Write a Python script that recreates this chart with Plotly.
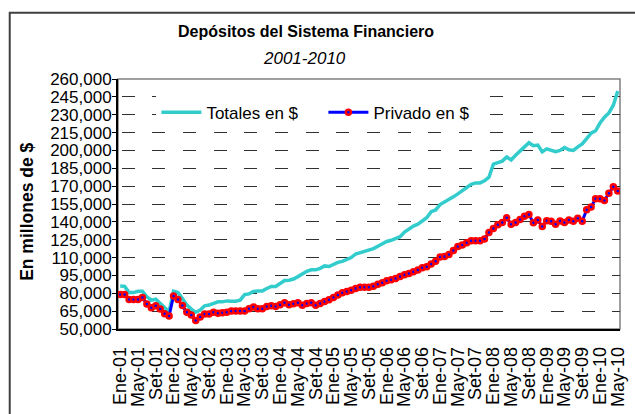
import plotly.graph_objects as go

# ---- data (millones de $) ----
month_abbr = ["Ene", "Feb", "Mar", "Abr", "May", "Jun", "Jul", "Ago", "Set", "Oct", "Nov", "Dic"]
months = [f"{m}-{y:02d}" for y in range(1, 11) for m in month_abbr][:113]   # Ene-01 .. May-10

tick_labels = ["Ene-01", "May-01", "Set-01", "Ene-02", "May-02", "Set-02", "Ene-03", "May-03", "Set-03",
               "Ene-04", "May-04", "Set-04", "Ene-05", "May-05", "Set-05", "Ene-06", "May-06", "Set-06",
               "Ene-07", "May-07", "Set-07", "Ene-08", "May-08", "Set-08", "Ene-09", "May-09", "Set-09",
               "Ene-10", "May-10"]

totales = [86100, 85800, 80600, 80600, 81700, 81700, 77000, 74200, 75000, 71400, 67800, 64500,
           81700, 80600, 75600, 70100, 66700, 64000, 65900, 69500, 70100, 71400, 72800, 72800,
           73600, 73400, 73400, 74200, 78900, 79500, 81500, 82000, 82000, 84000, 85800, 85800,
           88000, 90800, 91000, 92000, 94000, 96500, 98500, 99700, 99700, 101000, 103000, 102500,
           104500, 106000, 106800, 108500, 110000, 113000, 114000, 115000, 115900, 117500, 119500, 121500,
           123500, 124500, 126000, 127500, 131500, 134000, 136500, 138000, 140500, 143500, 148500, 150000,
           154500, 156500, 158500, 161000, 163500, 166000, 168500, 171500, 172700, 172700, 174500, 177500,
           188500, 189500, 191000, 194500, 192000, 196000, 200000, 203000, 206500, 204000, 204500, 198800,
           201300, 200500, 199000, 200000, 202500, 200500, 200000, 203000, 205500, 210000, 214500, 216500,
           223000, 228000, 231500, 238000, 250000]

privado = [78900, 78900, 74800, 74800, 74800, 76400, 70900, 67800, 69500, 66700, 62900, 60900,
           77800, 74800, 69800, 64000, 61800, 57100, 60100, 62600, 62600, 64000, 63200, 63700,
           64000, 65100, 65100, 65100, 65100, 67000, 68400, 67000, 67000, 69000, 69500, 69000,
           70300, 72000, 70300, 71200, 72000, 70000, 71500, 72000, 70000, 71500, 73000, 74500,
           76500, 78500, 80500, 81500, 82500, 84000, 85000, 85100, 85100, 86000, 87500, 88800,
           90600, 91300, 92500, 94000, 95500, 96700, 98000, 99500, 101500, 102200, 104500, 107000,
           110400, 111000, 112500, 115900, 119200, 120500, 122500, 124100, 124100, 124100, 125500, 131000,
           134500, 137500, 139500, 143400, 137900, 139500, 142000, 144700, 146100, 139200, 141500, 136000,
           141000, 140500, 138000, 140800, 139500, 141500, 140500, 143000, 140500, 150200, 152500, 159500,
           159500, 158000, 164000, 169500, 166000]

# ---- layout geometry (pixels) ----
W, H = 635, 414
L, R, T, B = 118, 7, 79, 82
pw, ph = W - L - R, H - T - B


def px_x(x):
    return (x - L) / pw


def px_y(y):
    return (H - B - y) / ph


FONT = "Arial, 'Liberation Sans', sans-serif"

fig = go.Figure()
fig.add_trace(go.Scatter(
    x=months, y=totales, name="Totales en $", mode="lines",
    line=dict(color="#33CCCC", width=3.5)))
fig.add_trace(go.Scatter(
    x=months, y=privado, name="Privado en $", mode="lines+markers",
    line=dict(color="#0000FF", width=3),
    marker=dict(symbol="circle", size=5, color="#0000FF", line=dict(color="#FF0000", width=2.5))))

fig.update_layout(
    width=W, height=H, autosize=False,
    margin=dict(l=L, r=R, t=T, b=B),
    paper_bgcolor="white", plot_bgcolor="white",
    font=dict(family=FONT, color="black"),
    showlegend=True,
    legend=dict(orientation="h", x=px_x(157), y=px_y(95), xanchor="left", yanchor="top",
                bgcolor="white", borderwidth=0, font=dict(size=17, family=FONT),
                itemwidth=40, entrywidth=112, entrywidthmode="pixels", traceorder="normal"),
    xaxis=dict(
        type="category", range=[-0.5, 112.5],
        tickmode="array", tickvals=[months[i] for i in range(0, 113, 4)], ticktext=tick_labels,
        tickangle=-90, tickfont=dict(size=18, family=FONT),
        showgrid=False, zeroline=False,
        showline=True, linecolor="black", linewidth=1.5,
        ticks="", ticklabelstandoff=9,
    ),
    yaxis=dict(
        range=[50000, 260000], tick0=50000, dtick=15000, tickformat=",d",
        tickfont=dict(size=17, family=FONT),
        showgrid=True, gridcolor="#303030", gridwidth=1, griddash="0px,3.5px,13px,14.17px",
        zeroline=False,
        showline=True, linecolor="black", linewidth=2,
        ticks="outside", ticklen=4, tickcolor="black", tickwidth=1,
        ticklabelstandoff=-3,
    ),
    shapes=[
        # plot area frame (top/right visible in grey)
        dict(type="rect", xref="paper", yref="paper", x0=0, x1=1, y0=0, y1=1,
             line=dict(color="#808080", width=1.5), layer="below"),
        # chart area border
        dict(type="rect", xref="paper", yref="paper",
             x0=px_x(8), x1=px_x(W + 10), y0=px_y(H + 10), y1=px_y(12),
             line=dict(color="#404040", width=2), layer="below"),
    ],
    annotations=[
        dict(text="<b>Depósitos del Sistema Financiero</b>", xref="paper", yref="paper",
             x=px_x(308.5), y=px_y(31), xanchor="center", yanchor="middle", showarrow=False,
             font=dict(size=16, family=FONT)),
        dict(text="<i>2001-2010</i>", xref="paper", yref="paper",
             x=px_x(307.5), y=px_y(58.5), xanchor="center", yanchor="middle", showarrow=False,
             font=dict(size=17, family=FONT)),
        dict(text="<b>En millones de $</b>", xref="paper", yref="paper",
             x=px_x(26), y=px_y(213), xanchor="center", yanchor="middle", showarrow=False,
             textangle=-90, font=dict(size=17.5, family=FONT)),
    ],
)

fig.write_html("out.html", config={"displayModeBar": False},
               post_script="document.body.style.margin='0';")
